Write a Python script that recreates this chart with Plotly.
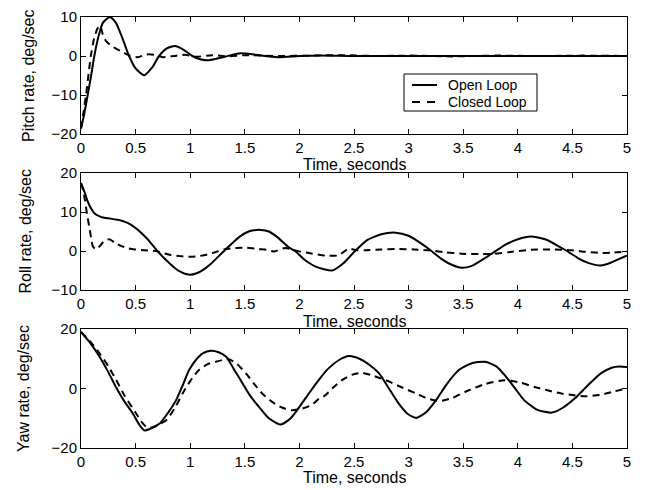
import plotly.graph_objects as go
from plotly.subplots import make_subplots

# ---------------- data ----------------
pitch_open_t = [0, 0.03, 0.061, 0.09, 0.122, 0.16, 0.2, 0.265, 0.32, 0.38, 0.44, 0.5, 0.578, 0.65, 0.715,
                0.79, 0.861, 0.94, 1.02, 1.1, 1.17, 1.3, 1.46, 1.6, 1.8, 2.0, 2.2, 2.5, 3.0, 3.5, 4.0, 4.5, 5.0]
pitch_open_v = [-18.6, -14.8, -10, -5.5, 0, 5, 8.5, 10, 8.5, 4.5, 0, -3.2, -4.95, -3, 0,
                2, 2.56, 1.6, 0, -0.9, -1.1, -0.3, 0.7, 0.3, -0.3, 0, 0.15, 0, 0, 0, 0, 0, 0]

pitch_closed_t = [0, 0.02, 0.046, 0.07, 0.09, 0.12, 0.15, 0.175, 0.2, 0.23, 0.27, 0.32, 0.38, 0.45, 0.52,
                  0.6, 0.68, 0.75, 0.85, 0.95, 1.05, 1.2, 1.35, 1.5, 1.8, 2.1, 2.4, 2.7, 3.0, 3.4, 3.8,
                  4.2, 4.6, 5.0]
pitch_closed_v = [-18.6, -15, -10, -4.5, 0, 4.5, 7, 7.8, 5.5, 3.8, 2.8, 1.9, 1.0, 0.0, -0.3,
                  0.4, 0.3, -0.3, 0, 0.3, -0.2, 0.2, -0.1, 0.2, 0, 0.1, 0.2, 0, 0.1, -0.1, 0.1,
                  0, 0.1, 0]

roll_open_t = [0, 0.03, 0.061, 0.09, 0.122, 0.17, 0.213, 0.27, 0.335, 0.38, 0.426, 0.47, 0.517, 0.56,
               0.61, 0.655, 0.70, 0.76, 0.82, 0.87, 0.91, 0.96, 1.0, 1.06, 1.126, 1.19, 1.247, 1.34,
               1.40, 1.46, 1.52, 1.58, 1.646, 1.72, 1.8, 1.9, 1.96, 2.05, 2.15, 2.30, 2.40, 2.51,
               2.62, 2.75, 2.88, 3.0, 3.1, 3.2, 3.3, 3.4, 3.485, 3.58, 3.7, 3.82, 3.9, 4.0, 4.12,
               4.25, 4.35, 4.45, 4.55, 4.65, 4.76, 4.85, 4.93, 5.0]
roll_open_v = [17.4, 15.3, 12.7, 11, 9.7, 8.9, 8.5, 8.3, 8.0, 7.7, 7.2, 6.5, 5.5, 4.4,
               3.0, 1.5, 0, -1.8, -3.4, -4.6, -5.3, -5.9, -6.1, -5.7, -4.7, -3.3, -1.7, 0.85,
               2.4, 3.8, 4.8, 5.3, 5.4, 5.0, 3.5, 1.0, 0, -2.3, -4.0, -5.0, -3.2, 0,
               2.8, 4.3, 4.7, 3.9, 2.2, 0.2, -2.0, -3.6, -4.3, -3.8, -1.8, 0.4, 1.8, 3.0, 3.7,
               3.0, 1.6, 0, -1.8, -3.1, -3.7, -3.0, -2.0, -1.2]

roll_closed_t = [0, 0.02, 0.036, 0.055, 0.077, 0.095, 0.107, 0.137, 0.17, 0.21, 0.26, 0.31, 0.365, 0.43,
                 0.49, 0.58, 0.68, 0.75, 0.82, 0.9, 1.0, 1.08, 1.156, 1.23, 1.31, 1.42, 1.52, 1.62,
                 1.7, 1.77, 1.87, 1.94, 2.0, 2.1, 2.24, 2.36, 2.45, 2.52, 2.6, 2.75, 2.88, 3.05,
                 3.18, 3.33, 3.485, 3.65, 3.79, 3.95, 4.12, 4.3, 4.49, 4.62, 4.76, 4.88, 5.0]
roll_closed_v = [17.4, 15.5, 13, 9.5, 6, 3, 1.3, 0.4, 1.2, 2.5, 3.0, 2.1, 1.3, 0.7,
                 0.4, 0.2, 0, -0.5, -1.0, -1.3, -1.5, -1.3, -0.9, -0.3, 0.4, 0.8, 0.85, 0.5,
                 0.3, -0.1, 0.8, 0.3, -0.1, -0.6, -1.2, -1.1, 0.6, 0.2, 0.2, 0.4, 0.5, 0.4,
                 0.2, -0.3, -0.7, -0.8, -0.7, -0.2, 0.3, 0.4, 0.2, -0.2, -0.5, -0.4, -0.1]

yaw_open_t = [0, 0.08, 0.17, 0.25, 0.32, 0.4, 0.475, 0.53, 0.58, 0.63, 0.72, 0.80, 0.87, 0.93, 0.99,
              1.05, 1.115, 1.19, 1.26, 1.33, 1.40, 1.48, 1.55, 1.63, 1.72, 1.83, 1.92, 2.0, 2.09,
              2.18, 2.26, 2.36, 2.455, 2.55, 2.64, 2.73, 2.82, 2.91, 2.99, 3.07, 3.16, 3.25, 3.35,
              3.46, 3.58, 3.70, 3.80, 3.88, 3.97, 4.06, 4.18, 4.31, 4.42, 4.52, 4.64, 4.76, 4.86,
              4.93, 5.0]
yaw_open_v = [19, 15.5, 10.7, 5.5, 0.5, -4.5, -8.4, -12, -14.1, -13.6, -11.8, -8.0, -4, 1, 6.2,
              9.5, 11.8, 12.7, 12.2, 10.7, 6.5, 1.7, -2.5, -6.2, -10, -12.1, -10, -6.2, -1.5,
              3.0, 6.5, 9.5, 10.9, 10, 8, 5.1, 0, -5.1, -8.5, -9.9, -8, -4, 1.5,
              6.2, 8.5, 9.0, 7.5, 4.5, 0.3, -4, -7.2, -8.1, -6.3, -3.4, 1, 5.1, 7.0,
              7.4, 7.2]

yaw_closed_t = [0, 0.08, 0.17, 0.25, 0.32, 0.40, 0.505, 0.56, 0.61, 0.66, 0.72, 0.78, 0.86, 0.93, 1.0,
                1.08, 1.16, 1.235, 1.30, 1.355, 1.43, 1.51, 1.58, 1.66, 1.75, 1.84, 1.93, 2.02, 2.11,
                2.18, 2.23, 2.31, 2.39, 2.48, 2.57, 2.66, 2.79, 2.93, 3.07, 3.18, 3.28, 3.40, 3.52,
                3.70, 3.88, 4.02, 4.155, 4.28, 4.40, 4.52, 4.62, 4.75, 4.88, 5.0]
yaw_closed_v = [19, 16, 11.8, 7.5, 3, -2.5, -8.4, -11.5, -13.2, -13, -12, -10.7, -6.5, -1.7, 2.5,
                6.2, 8.2, 9.0, 9.6, 9.8, 8.2, 5.1, 1.8, -1.7, -4.5, -6.4, -7.3, -6.8, -5.6,
                -3.4, -2.5, 0.3, 2.8, 4.6, 5.3, 4.5, 2.8, 0.5, -1.7, -3.4, -4.2, -3.2, -1.1,
                1.5, 2.8, 2.0, 0.5, -0.7, -1.7, -2.3, -2.6, -2.2, -1.0, 0]

x_ticks = [0, 0.5, 1, 1.5, 2, 2.5, 3, 3.5, 4, 4.5, 5]
x_tick_text = ["0", "0.5", "1", "1.5", "2", "2.5", "3", "3.5", "4", "4.5", "5"]
y_labels = ["Pitch rate, deg/sec", "Roll rate, deg/sec", "Yaw rate, deg/sec"]
x_label = "Time, seconds"
series_names = ["Open Loop", "Closed Loop"]
y_ranges = [[-20, 10], [-10, 20], [-20, 20]]
y_dticks = [10, 10, 20]

# ---------------- figure ----------------
W, H = 653, 490
L, R = 81, 627
FONT = "Liberation Sans, Arial, Helvetica, sans-serif"
DASH = "7px,5px"
fig = make_subplots(rows=3, cols=1)
fig.update_layout(template="none")

panels = [
    (pitch_open_t, pitch_open_v, pitch_closed_t, pitch_closed_v),
    (roll_open_t, roll_open_v, roll_closed_t, roll_closed_v),
    (yaw_open_t, yaw_open_v, yaw_closed_t, yaw_closed_v),
]
for i, (to, vo, tc, vc) in enumerate(panels):
    fig.add_trace(go.Scatter(x=to, y=vo, mode="lines", name=series_names[0], showlegend=False,
                             line=dict(color="black", width=2, shape="spline", smoothing=0.6)),
                  row=i + 1, col=1)
    fig.add_trace(go.Scatter(x=tc, y=vc, mode="lines", name=series_names[1], showlegend=False,
                             line=dict(color="black", width=2, dash=DASH, shape="spline",
                                       smoothing=0.6)),
                  row=i + 1, col=1)

def px_x(p):
    return (p - L) / (R - L)

def px_y(p):
    return 1 - p / H

# pixel rows of the three plot boxes (top, bottom)
boxes = [(17, 134), (173, 290), (329, 448)]
for i, (top, bot) in enumerate(boxes):
    dom = [px_y(bot), px_y(top)]
    ax = dict(showline=True, linecolor="black", linewidth=1, mirror="ticks", ticks="inside",
              ticklen=5, tickcolor="black", tickwidth=1, showgrid=False, zeroline=False,
              automargin=False, tickfont=dict(family=FONT, size=15, color="black"))
    fig.update_yaxes(domain=dom, range=y_ranges[i], dtick=y_dticks[i], tick0=0, **ax, row=i + 1, col=1)
    fig.update_xaxes(range=[0, 5], tickvals=x_ticks, ticktext=x_tick_text, **ax, row=i + 1, col=1)

annotations = []
shapes = []
ylab_x = [28.5, 25, 23.5]
xlab_y = [164, 321, 477.5]
for i, (top, bot) in enumerate(boxes):
    annotations.append(dict(text=y_labels[i], xref="paper", yref="paper",
                            x=px_x(ylab_x[i]), y=px_y((top + bot) / 2),
                            textangle=-90, showarrow=False, xanchor="center", yanchor="middle",
                            font=dict(family=FONT, size=16, color="black")))
    annotations.append(dict(text=x_label, xref="paper", yref="paper", x=0.5, y=px_y(xlab_y[i]),
                            showarrow=False, xanchor="center", yanchor="middle",
                            font=dict(family=FONT, size=16, color="black")))

# legend box (drawn like the MATLAB legend)
lg_left, lg_right, lg_top, lg_bot = 404, 537, 74, 111
row_y = [85, 102]
shapes.append(dict(type="rect", xref="paper", yref="paper", x0=px_x(lg_left), x1=px_x(lg_right),
                   y0=px_y(lg_bot), y1=px_y(lg_top), line=dict(color="black", width=1),
                   fillcolor="white", layer="above"))
for k, name in enumerate(series_names):
    shapes.append(dict(type="line", xref="paper", yref="paper", x0=px_x(412), x1=px_x(437),
                       y0=px_y(row_y[k]), y1=px_y(row_y[k]),
                       line=dict(color="black", width=2, dash=("solid" if k == 0 else "8px,7px")),
                       layer="above"))
    annotations.append(dict(text=name, xref="paper", yref="paper", x=px_x(446), y=px_y(row_y[k]),
                            showarrow=False, xanchor="left", yanchor="middle",
                            font=dict(family=FONT, size=14, color="black")))

fig.update_layout(
    width=W, height=H,
    margin=dict(l=L, r=W - R, t=0, b=0, autoexpand=False),
    paper_bgcolor="white", plot_bgcolor="white",
    font=dict(family=FONT, size=15, color="black"),
    annotations=annotations,
    shapes=shapes,
    showlegend=False,
)

fig.write_html("out.html")
